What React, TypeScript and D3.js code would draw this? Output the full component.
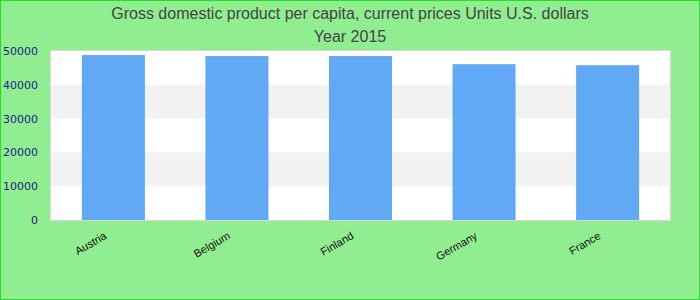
import React from "react";
import * as d3 from "d3";

const countries = ["Austria", "Belgium", "Finland", "Germany", "France"];
const gdpPerCapita = [48800, 48500, 48500, 46100, 45800];
const yTicks = [0, 10000, 20000, 30000, 40000, 50000];
const titleLines = [
  "Gross domestic product per capita, current prices Units U.S. dollars",
  "Year 2015",
];

const W = 700;
const H = 300;
const plot = { left: 51, right: 670, top: 51, bottom: 220 };

export default function App() {
  const x = d3
    .scaleBand<string>()
    .domain(countries)
    .range([plot.left, plot.right])
    .paddingInner(0.49)
    .paddingOuter(0.25);
  const y = d3.scaleLinear().domain([0, 50000]).range([plot.bottom, plot.top]);

  const bands = yTicks.slice(0, -1).map((t, i) => ({ lo: t, hi: yTicks[i + 1], i }));

  return (
    <svg
      width={W}
      height={H}
      style={{ position: "absolute", left: 0, top: 0, display: "block" }}
    >
      <rect x={0.5} y={0.5} width={W - 1} height={H - 1} fill="#90ee90" stroke="#22e022" strokeWidth={1} />
      {titleLines.map((t, i) => (
        <text
          key={i}
          x={W / 2}
          y={19 + i * 23}
          textAnchor="middle"
          fontFamily="Liberation Sans, Arial, sans-serif"
          fontSize={16}
          fill="#444444"
        >
          {t}
        </text>
      ))}
      <rect
        x={plot.left - 0.5}
        y={plot.top - 0.5}
        width={plot.right - plot.left + 1}
        height={plot.bottom - plot.top + 1}
        fill="#ffffff"
        stroke="#d8d8d8"
        strokeWidth={1}
      />
      {bands.map((b) =>
        b.i % 2 === 1 ? (
          <rect
            key={b.lo}
            x={plot.left}
            y={y(b.hi)}
            width={plot.right - plot.left}
            height={y(b.lo) - y(b.hi)}
            fill="#f2f2f2"
          />
        ) : null
      )}
      {countries.map((c, i) => (
        <rect
          key={c}
          x={x(c)}
          y={y(gdpPerCapita[i])}
          width={x.bandwidth()}
          height={y(0) - y(gdpPerCapita[i])}
          fill="#61a9f5"
        />
      ))}
      {yTicks.map((t) => (
        <text
          key={t}
          x={38}
          y={y(t) + 4}
          textAnchor="end"
          fontFamily="DejaVu Sans, sans-serif"
          fontSize={11}
          fill="#18228a"
        >
          {t}
        </text>
      ))}
      {countries.map((c) => {
        const cx = (x(c) ?? 0) + x.bandwidth() / 2 - 6;
        const cy = 238;
        return (
          <text
            key={c}
            x={cx}
            y={cy}
            textAnchor="end"
            transform={`rotate(-30 ${cx} ${cy})`}
            fontFamily="Liberation Sans, Arial, sans-serif"
            fontSize={11}
            fill="#111"
          >
            {c}
          </text>
        );
      })}
    </svg>
  );
}
